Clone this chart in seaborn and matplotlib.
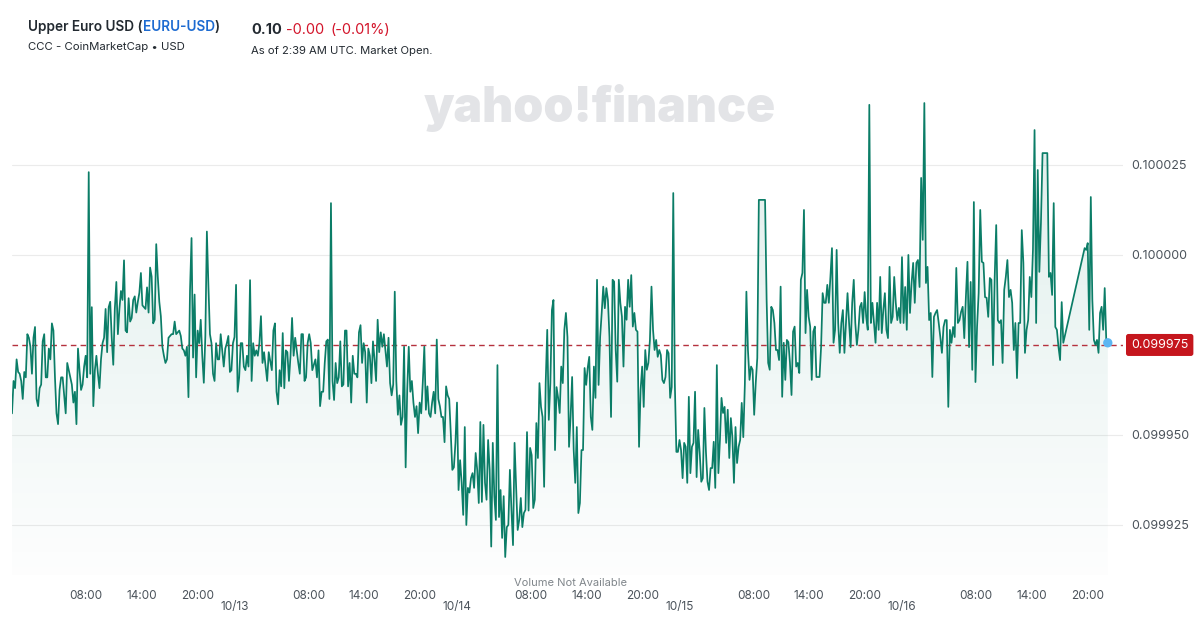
import numpy as np
import pandas as pd
import matplotlib
matplotlib.use('Agg')
import matplotlib.pyplot as plt
import matplotlib.dates as mdates
import matplotlib.transforms as mtransforms
from matplotlib.ticker import FuncFormatter
import seaborn as sns

# EURU-USD price, read off the chart as deviation from 0.100000 in millionths of a dollar
# one list per stretch of the chart (10/12 00:00 -> 10/16 ~22:10)
day1_dev = [-44, -35, -37, -29, -32.5, -33, -35, -40, -32.5, -34, -22, -23, -25.5, -33, -23, -20, -40, -42,
            -37, -36, -24, -22, -34, -34, -26, -29, -19, -21, -34, -44, -47, -37.5, -34, -34, -39, -44, -30,
            -32, -34, -36, -41, -38, -47, -26, -32, -37.5, -36, -31, -28, -34, 23, -33, -14.5, -42, -32, -28,
            -33, -37, -29, -24.5, -23, -15, -27, -14.5, -13, -23, -30.5, -15, -7.5, -22, -15, -10, -12.5, -1.5,
            -21, -21.5, -12, -18.5, -17.5, -12.5, -11.5, -16, -13, -10.5, -5, -14, -14.5, -15, -9, -16, -3.5,
            -6, -19, -18, 3, -6, -13, -17, -25.5, -28, -30, -29, -23, -22.5, -22, -22, -18.5, -22, -21.5, -21,
            -22.5, -26, -26.5, -28, -25.5, -39.5, -10, 4.7, -28.5, -11, -34, -21, -24.5, -18, -28, -35.5,
            -22.5, 6.5, -8.5, -22, -24.5, -33, -35, -24.5, -29, -29, -22, -26.5, -31, -26, -24.5, -22.5, -32.5,
            -32, -24.5]
day2_dev = [-22.8, -8.3, -38, -34, -24.5, -24.5, -31, -32, -28, -31, -7, -35, -24.5, -28, -26.5, -28, -24.5,
            -17, -30, -27, -31, -35, -27, -29.5, -32, -21, -19, -38, -41.5, -32, -36.5, -21.7, -37, -26.5, -27,
            -35, -28, -17.5, -28, -23, -26.5, -30, -33, -22, -22, -35, -34, -24.5, -22, -24.5, -32, -30.5, -29,
            -34, -26.5, -42, -38, -38, -30, -24, -23.5, -40, 14.4, -35, -40.3, -30, -35.6, -34, -24, -36.5, -36,
            -21, -21, -36.5, -30, -41, -28, -33, -33, -34, -21.5, -19.5, -30, -24.5, -27, -41, -26, -28, -35.6,
            -24, -29, -35, -18, -27, -21.5, -25.5, -22, -26.5, -31, -23, -35.6, -39, -36, -10.2, -35, -44.4,
            -39, -47.2, -45, -25.5, -59, -37.5, -25.5, -38, -35, -41, -45, -42, -49.5, -41, -44, -35.6, -25.5,
            -43, -36.5, -44, -45, -41, -38, -44, -23.5, -40, -42, -45, -45, -52, -36.5, -39, -40, -49.5, -59.7,
            -59, -52.2]
day3_dev = [-41, -65.3, -57, -63.3, -72.2, -47.8, -75, -64.7, -66, -62, -60.6, -64.7, -55, -59.7, -68.9,
            -46.4, -68.6, -47.2, -63.3, -68, -51.4, -59.7, -81, -52.2, -67, -73.6, -30.6, -72.8, -65.3, -78.6,
            -67, -83.9, -75.6, -75, -59.7, -70.8, -80.6, -52.2, -64.4, -76.4, -73.6, -67.5, -75.6, -71.7,
            -70.8, -49.2, -71, -53.6, -55.6, -70.3, -68, -46.7, -56.4, -35.6, -42.2, -45, -64.4, -35.6, -20.8,
            -45.8, -35.6, -15.3, -12.5, -54.2, -36.7, -39.7, -43.9, -31, -35.6, -20.8, -16.1, -22.8, -53.3,
            -45, -33.9, -54.2, -63.3, -47.8, -71.7, -68.9, -54.2, -54.2, -31.4, -36.1, -31.4, -28.3, -45,
            -48.6, -31, -39.7, -6.9, -36.1, -22.8, -16.1, -8.8, -14.8, -9.2, -12.5, -22.8, -45, -6.9, -7.4,
            -26.4, -35.2, -6.9, -13.4, -17.1, -31, -14.4, -18, -6.9, -14.4, -5.6, -19.9, -16.1, -20.8, -21.3,
            -53.3, -37.5, -31, -42.2, -26.4, -31.9, -30, -23.6, -8.8, -20.8, -26.4, -23.6, -28.3, -26.4,
            -27.8, -34.7, -35.6, -33.9, -26.4, -27.3, -39.7, -36.7, 17.2, -35.6, -54.7, -54.7]
day4_dev = [-51.4, -54.2, -62, -52.2, -53.3, -63.3, -39.4, -60.6, -53.3, -52.2, -38, -61.7, -48.6, -55, -63,
            -62, -42.5, -54.7, -63, -65.3, -59.2, -59.2, -51.9, -64.7, -30.6, -60.6, -51.4, -39.7, -43.9,
            -42.2, -52.2, -43, -56.4, -45.3, -50.6, -63.3, -47.8, -57.8, -53.3, -51.4, -41.1, -50.6, -36.1,
            -10.2, -26.4, -34.7, -31, -31.9, -44.4, -35.6, -28.6, 15.3, 15.3, 15.3, 15.3, 15.3, -12.5, -30,
            -31.9, -14.4, -15.3, -18.9, -26.4, -26.4, -29.2, -8.8, -39.4, -24.4, -34.7, -23.6, -24.2, -30,
            -38.9, -21.3, -19.9, -31, -30, -32.8, -6.9, -5, 12.5, -21.7, -9.7, -17.1, -19.9, -34.7, -21.3,
            -19.9, -33.9, -33.9, -33.9, -25.6, -10.6, -13.3, -13.3, -8.3, -13.3, -6.1, 1.9, -24.4, -20.8, 1.4,
            -18.9, -27.2, -18.9, -15.3, -27.2, -18.9, -10.6, -18.9, -25.6, -13.3, -6.9, -18.9, -25, -20.8,
            -14.4, -13.3, -18.9, -10.3, -17.2, -20.8, 41.7, -18.9, -13.3, -18.9, -24.4, -13.3, -20.8, -6.1,
            -21.7, -15.3, -10.6, -20.8, -23.1, -3.3, -18.9, -17.2, -6.1, -13.3, -18.1, -14.7, -18.9]
day5_dev = [-0.6, -18.9, -8.9, -20.8, 0, -16.1, -7.8, -2.2, -13.3, -2.2, -1.4, -8.9, 21.4, 4.2, 42.2, -7.8,
            -3.3, -18.1, -16.1, -33.9, -17.2, -16.1, -15.3, -18.9, -22.8, -27.2, -20, -18.1, -18.1, -42.2,
            -20.8, -24.4, -20, -22.8, -3.6, -18.9, -18.1, -15.8, -14.4, -23.1, -11.7, -1.9, -25.6, -7.5,
            -31.9, 14.7, -35.3, -20, -10.6, 12.5, -1.9, -2.2, -11.7, -11.9, -17.2, -6.4, -6.9, -30.6, -6.9,
            8.3, -18.1, -18.9, -18.1, -30, -9.7, -6.1, -1.4, -11.7, -9.7, -13.3, -26.4, -18.9, -34.2, -18.9,
            -18.9, 6.9, -2.2, -27.2, -20.8, -18.1, -6.1, -11.7, 1.4, 34.7, -18.9, 23.6, -4.7, 8.9, 28.3, 28.3,
            28.3, 28.3, -6.1, -5, -11.1, 14.4, -20, -20.8, -25.6, -29.2, -13.1, -24.4]
# after the gap in quotes (10/16 evening)
late_dev = [1.9, 1.4, 3.3, -20.8, 16.1, -12.5, -23.6, -25, -23.6, -27.2, -16.1, -14.4, -20.8, -9.2, -23.6,
            -24.4]

# hours since 10/12 00:00 covered by each list
spans = [(0, 24), (24, 48), (48, 72), (72, 96), (96, 113.4), (115.7, 118.2)]

prev_close = 0.099975
y_ticks = [0.099925, 0.099950, 0.100000, 0.100025]
date_labels = ['10/13', '10/14', '10/15', '10/16']

start = pd.Timestamp('2025-10-12 00:00')
chunks = [day1_dev, day2_dev, day3_dev, day4_dev, day5_dev, late_dev]
frames = []
for i, (vals, (h0, h1)) in enumerate(zip(chunks, spans)):
    last = i >= 4
    hrs = np.linspace(h0, h1, len(vals), endpoint=last)
    frames.append(pd.DataFrame({'time': start + pd.to_timedelta(hrs, unit='h'),
                                'price': 0.1 + np.array(vals) * 1e-6}))
df = pd.concat(frames, ignore_index=True)

LINE = '#0b7d67'
TXT = '#232a31'
GREY = '#4b535b'

sns.set_theme(style='white')
plt.rcParams['font.family'] = ['Inter', 'DejaVu Sans']

fig = plt.figure(figsize=(12, 6.3), dpi=100)
ax = fig.add_axes([12 / 1200, 55 / 630, 1111 / 1200, 495 / 630])
ax.set_facecolor('none')

ymin = 0.1 - 88.9e-6
ymax = 0.1 + 48.6e-6

sns.lineplot(data=df, x='time', y='price', ax=ax, color=LINE, linewidth=1.25, zorder=3)

# gradient fill under the line
xnum = mdates.date2num(df['time'])
poly = ax.fill_between(df['time'], df['price'], ymin, facecolor='none', edgecolor='none')
clip = poly.get_paths()[0]
grad = np.zeros((256, 1, 4))
grad[..., :3] = matplotlib.colors.to_rgb(LINE)
grad[..., 3] = np.linspace(0.14, 0.01, 256)[:, None]
im = ax.imshow(grad, aspect='auto', origin='upper', zorder=1,
               extent=[xnum.min(), xnum.max(), ymin, ymax])
im.set_clip_path(clip, transform=ax.transData)

ax.axhline(prev_close, color='#b5323e', lw=1, dashes=(4, 3), zorder=2)
ax.scatter([df['time'].iloc[-1]], [df['price'].iloc[-1]], s=45, color='#5db6f2', edgecolor='none', zorder=5)

ax.set_xlim(start, start + pd.Timedelta(hours=119.84))
ax.set_ylim(ymin, ymax)
for s in ax.spines.values():
    s.set_visible(False)
ax.set_xlabel('')
ax.set_ylabel('')

ax.xaxis.set_major_locator(mdates.HourLocator(byhour=[8, 14, 20]))
ax.xaxis.set_major_formatter(mdates.DateFormatter('%H:%M'))
ax.tick_params(axis='x', length=0, pad=11, labelsize=8.5, labelcolor=GREY)

ax.yaxis.tick_right()
ax.set_yticks(y_ticks)
ax.yaxis.set_major_formatter(FuncFormatter(lambda v, p: f'{v:.6f}'))
ax.tick_params(axis='y', length=0, pad=6, labelsize=9, labelcolor=GREY)
ax.grid(axis='y', color='#ebebeb', lw=0.8)
ax.grid(axis='x', visible=False)

blend = mtransforms.blended_transform_factory(ax.transData, ax.transAxes)
for i, lab in enumerate(date_labels):
    t = mdates.date2num(start + pd.Timedelta(hours=24 * (i + 1)))
    ax.text(t, -0.0646, lab, transform=blend, ha='center', va='center', fontsize=8.5, color=GREY)

ax.text(570 / 1200, -0.0162, 'Volume Not Available',
        transform=mtransforms.blended_transform_factory(fig.transFigure, ax.transAxes),
        ha='center', va='center', fontsize=8, color='#80868b')

# current price tag
blend_y = mtransforms.blended_transform_factory(ax.transAxes, ax.transData)
ax.text(1 + 8 / 1111, prev_close, '0.099975', transform=blend_y, ha='left', va='center', fontsize=9,
        color='white', clip_on=False,
        bbox=dict(boxstyle='round,pad=0.4,rounding_size=0.2', fc='#c5161d', ec='none'))

# watermark
ident = mtransforms.IdentityTransform()
wm = ax.text(600, 630 - 108, 'yahoo!finance', transform=ident, ha='center', va='center',
             fontsize=40, fontweight='black', color='#e3e4e7', zorder=0.5)
r = fig.canvas.get_renderer()
w = wm.get_window_extent(r).width
wm.set_fontsize(40 * 352 / w)

# header
def pieces(x, y, parts, size, weight='normal'):
    for s, col in parts:
        t = fig.text(x, y, s, transform=ident, color=col, fontsize=size, fontweight=weight, va='center')
        x = t.get_window_extent(r).x1

pieces(28, 630 - 27, [('Upper Euro USD (', TXT), ('EURU-USD', '#1d6bd1'), (')', TXT)], 9.8, 'semibold')
fig.text(28, 630 - 47, 'CCC - CoinMarketCap \u2022 USD', transform=ident, fontsize=8.2, color=TXT, va='center')
fig.text(251, 630 - 30, '0.10', transform=ident, fontsize=10.5, fontweight='bold', color=TXT, va='center')
fig.text(286, 630 - 30, '-0.00', transform=ident, fontsize=10.5, color='#d3152b', va='center')
fig.text(331, 630 - 30, '(-0.01%)', transform=ident, fontsize=10.5, color='#d3152b', va='center')
fig.text(251, 630 - 51, 'As of 2:39 AM UTC. Market Open.', transform=ident, fontsize=8.1, color=TXT, va='center')

fig.savefig('out.png', dpi=100)
